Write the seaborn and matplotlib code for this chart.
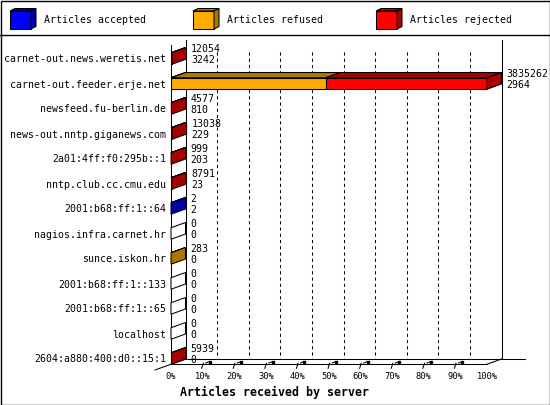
import pandas as pd
import seaborn as sns
import matplotlib.pyplot as plt

# --- data ---
servers = [
    "carnet-out.news.weretis.net",
    "carnet-out.feeder.erje.net",
    "newsfeed.fu-berlin.de",
    "news-out.nntp.giganews.com",
    "2a01:4ff:f0:295b::1",
    "nntp.club.cc.cmu.edu",
    "2001:b68:ff:1::64",
    "nagios.infra.carnet.hr",
    "sunce.iskon.hr",
    "2001:b68:ff:1::133",
    "2001:b68:ff:1::65",
    "localhost",
    "2604:a880:400:d0::15:1",
]
total = [12054, 3835262, 4577, 13038, 999, 8791, 2, 0, 283, 0, 0, 0, 5939]
accepted = [3242, 2964, 810, 229, 203, 23, 2, 0, 0, 0, 0, 0, 0]
refused = [0, 1875600, 0, 0, 0, 0, 0, 0, 283, 0, 0, 0, 0]
rejected = [8812, 1956698, 3767, 12809, 796, 8768, 0, 0, 0, 0, 0, 0, 5939]
pct_ticks = [0, 10, 20, 30, 40, 50, 60, 70, 80, 90, 100]
tick_labels = [f"{p}%" for p in pct_ticks]
series_names = ["Articles accepted", "Articles refused", "Articles rejected"]
front_colors = ["#0000FF", "#FFAA00", "#FF0000"]
side_colors = ["#0000AA", "#AA7700", "#AA0000"]

W, H = 550, 405
DX = 14.5 / 3.16      # depth offset, percent
DY = -0.21            # depth offset, rows
BAR_H = 0.46
FLOOR = 12.23
LW = 0.75

plt.rcParams['font.family'] = 'DejaVu Sans Mono'

scale = max(total)
df = pd.DataFrame({"server": servers, "total": total, "accepted": accepted,
                   "refused": refused, "rejected": rejected})
df["acc_end"] = df["accepted"] / scale * 100
df["ref_end"] = (df["accepted"] + df["refused"]) / scale * 100
df["tot_end"] = df["total"] / scale * 100

fig = plt.figure(figsize=(W / 100, H / 100), dpi=100)
ax = fig.add_axes([171 / W, 1 - 364.25 / H, 316 / W, (364.25 - 46) / H])
ax.set_facecolor("none")

# stacked front faces, drawn longest first
for col, color in [("tot_end", front_colors[2]), ("ref_end", front_colors[1]),
                   ("acc_end", front_colors[0])]:
    sns.barplot(data=df, x=col, y="server", orient="h", color=color,
                saturation=1, width=BAR_H, edgecolor="black", linewidth=LW,
                errorbar=None, ax=ax, zorder=3)

ax.set_xlim(0, 100)
ax.set_ylim(FLOOR, -0.5)

# 3d top faces and end faces
for i, row in df.iterrows():
    top = i - BAR_H / 2
    bottom = i + BAR_H / 2
    edges = [0, row["acc_end"], row["ref_end"], row["tot_end"]]
    vals = [row["accepted"], row["refused"], row["rejected"]]
    last = None
    for k in range(3):
        x0, x1 = edges[k], edges[k + 1]
        if vals[k] > 0:
            last = k
            ax.fill([x0, x1, x1 + DX, x0 + DX], [top, top, top + DY, top + DY],
                    facecolor=side_colors[k], edgecolor="black", lw=LW,
                    zorder=3, clip_on=False)
    xe = row["tot_end"]
    face = side_colors[last] if last is not None else "white"
    ax.fill([xe, xe, xe + DX, xe + DX], [top, bottom, bottom + DY, top + DY],
            facecolor=face, edgecolor="black", lw=LW, zorder=3, clip_on=False)
    ax.text(xe + DX + 1.5, i - 0.37, str(row["total"]), fontsize=7.1,
            va="center", ha="left", zorder=4, clip_on=False)
    ax.text(xe + DX + 1.5, i + 0.07, str(row["accepted"]), fontsize=7.1,
            va="center", ha="left", zorder=4, clip_on=False)

# walls, grid and floor
line = dict(color="black", lw=LW, clip_on=False)
ax.plot([0, 0], [-0.54, FLOOR], zorder=2, **line)
ax.plot([DX, DX], [-0.74, FLOOR + DY], zorder=2, **line)
ax.plot([100 + DX, 100 + DX], [-0.74, FLOOR + DY], zorder=2, **line)
for p in pct_ticks[1:-1]:
    ax.plot([p + DX, p + DX], [-0.26, FLOOR + DY], ls=(0, (3, 3)), zorder=1, **line)
ax.plot([0, 100], [FLOOR, FLOOR], zorder=2, **line)
ax.plot([100, 100 + DX], [FLOOR, FLOOR + DY], zorder=2, **line)
ax.plot([DX, 112], [FLOOR + DY, FLOOR + DY], zorder=2, **line)
ax.plot([-5.06, DX], [12.46, FLOOR + DY], zorder=2, **line)
for p in pct_ticks[1:-1]:
    ax.plot([p - 0.3, p + 0.2], [FLOOR + 0.16, FLOOR - 0.04], zorder=2, **line)
    ax.plot([p + 1.0, p + 2.2], [FLOOR - 0.05, FLOOR - 0.11], zorder=2,
            marker="s", markersize=2, markevery=[1], **line)

ax.set_xticks(pct_ticks, tick_labels)
ax.tick_params(axis="x", length=0, pad=5.5, labelsize=6.3)
ax.tick_params(axis="y", length=0, pad=3.6, labelsize=7.1)
ax.set_xlabel("")
ax.set_ylabel("")
for s in ax.spines.values():
    s.set_visible(False)

# overlay in pixel units: border, legend, axis title
ov = fig.add_axes([0, 0, 1, 1])
ov.set_xlim(0, W)
ov.set_ylim(H, 0)
ov.axis("off")
ov.add_patch(plt.Rectangle((0.5, 0.5), W - 1, H - 1, fill=False,
                           edgecolor="black", lw=1))
ov.plot([0, W], [34.5, 34.5], color="black", lw=1)
for k, name in enumerate(series_names):
    x = 10 + 183 * k
    ov.fill([x, x + 21, x + 21, x], [11, 11, 29, 29],
            facecolor=front_colors[k], edgecolor="black", lw=LW)
    ov.fill([x, x + 21, x + 26, x + 5], [11, 11, 8.5, 8.5],
            facecolor=side_colors[k], edgecolor="black", lw=LW)
    ov.fill([x + 21, x + 26, x + 26, x + 21], [11, 8.5, 26.5, 29],
            facecolor=side_colors[k], edgecolor="black", lw=LW)
    ov.text(x + 34, 20, name, fontsize=7.1, va="center", ha="left")
ov.text(274.5, 392, "Articles received by server", fontsize=8.4,
        fontweight="bold", ha="center", va="center")

fig.savefig("out.png", dpi=100)
